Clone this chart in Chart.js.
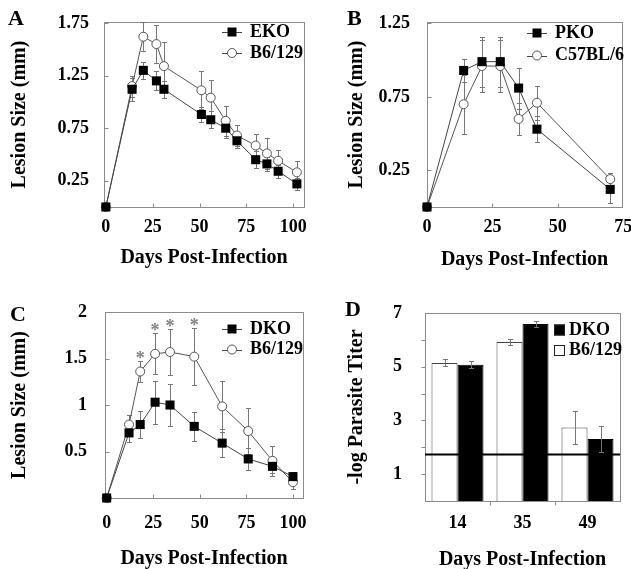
<!DOCTYPE html>
<html>
<head>
<meta charset="utf-8">
<title>Lesion size and parasite titer</title>
<script src="https://cdn.jsdelivr.net/npm/chart.js@4.4.1/dist/chart.umd.min.js"></script>
<style>
    body { margin: 0; background: #fff; width: 631px; height: 569px; position: relative; overflow: hidden; }
    canvas { position: absolute; }
    .tag { position: absolute; font: bold 22px 'Liberation Serif', 'Times New Roman', serif; line-height: 1; }
</style>
</head>
<body>
<canvas id="chartA" width="315" height="280" style="left:0;top:0"></canvas>
<canvas id="chartB" width="316" height="280" style="left:315px;top:0"></canvas>
<canvas id="chartC" width="315" height="289" style="left:0;top:280px"></canvas>
<canvas id="chartD" width="316" height="289" style="left:315px;top:280px"></canvas>
<div class="tag" style="left:8px;top:7px">A</div>
<div class="tag" style="left:347px;top:7px">B</div>
<div class="tag" style="left:10px;top:303px">C</div>
<div class="tag" style="left:345px;top:298px">D</div>

<script>
// Panel A - EKO vs B6/129
const daysA = [0, 14, 20, 27, 31, 51, 56, 64, 70, 80, 86, 92, 102];
const ekoA = [0, 1.12, 1.30, 1.20, 1.12, 0.88, 0.83, 0.75, 0.63, 0.45, 0.41, 0.34, 0.22];
const ekoErrA = [0, 0.11, 0.08, 0.09, 0.08, 0.075, 0.08, 0.09, 0.07, 0.08, 0.07, 0.06, 0.06];
const b6A = [0, 1.15, 1.62, 1.55, 1.34, 1.11, 1.04, 0.82, 0.68, 0.585, 0.51, 0.44, 0.33];
const b6ErrA = [0, 0.1, 0.14, 0.18, 0.23, 0.18, 0.17, 0.14, 0.1, 0.11, 0.15, 0.1, 0.11];
const xTicksA = [0, 25, 50, 75, 100];
const yTicksA = [0.25, 0.75, 1.25, 1.75];

// Panel B - PKO vs C57BL/6
const daysB = [0, 14, 21, 28, 35, 42, 70];
const pkoB = [0, 0.93, 0.99, 0.99, 0.81, 0.53, 0.12];
const pkoErrB = [0, 0.08, 0.17, 0.17, 0.14, 0.09, 0.09];
const c57B = [0, 0.70, 0.96, 0.96, 0.60, 0.71, 0.19];
const c57ErrB = [0, 0.2, 0.18, 0.18, 0.11, 0.115, 0.04];
const xTicksB = [0, 25, 50, 75];
const yTicksB = [0.25, 0.75, 1.25];

// Panel C - DKO vs B6/129
const daysC = [0, 12, 18, 26, 34, 47, 62, 76, 89, 100];
const dkoC = [0, 0.70, 0.79, 1.03, 1.00, 0.77, 0.59, 0.42, 0.34, 0.23];
const dkoErrC = [0, 0.1, 0.15, 0.23, 0.23, 0.16, 0.15, 0.12, 0.07, 0.05];
const b6C = [0, 0.79, 1.36, 1.55, 1.57, 1.52, 0.985, 0.72, 0.40, 0.17];
const b6ErrC = [0, 0.1, 0.11, 0.22, 0.25, 0.31, 0.27, 0.25, 0.16, 0.07];
const starIdxC = [2, 3, 4, 5];
const xTicksC = [0, 25, 50, 75, 100];
const yTicksC = [0.5, 1, 1.5, 2];

// Panel D - parasite titer
const daysD = ['14', '35', '49'];
const b6D = [5.14, 5.92, 2.74];
const b6ErrD = [0.13, 0.1, 0.62];
const dkoD = [5.07, 6.59, 2.31];
const dkoErrD = [0.13, 0.12, 0.5];
const detectionLimitD = 1.73;
const yTicksD = [0, 1, 2, 3, 4, 5, 6, 7];
const yLabelsD = [1, 3, 5, 7];

const SERIF = "'Liberation Serif', 'Times New Roman', serif";
const GREY = '#8c8c8c';

// box round the plot area plus the small tick marks
const framePlugin = {
    id: 'frame',
    beforeDatasetsDraw(chart, args, opts) {
        const {ctx, chartArea: a} = chart;
        const dir = opts.outward ? -1 : 1;
        const len = 4;
        const xs = chart.scales.x, ys = chart.scales.y;
        ctx.save();
        ctx.strokeStyle = GREY;
        ctx.lineWidth = 1;
        ctx.strokeRect(Math.round(a.left) + 0.5, Math.round(a.top) + 0.5,
            Math.round(a.right - a.left), Math.round(a.bottom - a.top));
        ctx.beginPath();
        const bottom = Math.round(a.bottom) + 0.5, left = Math.round(a.left) + 0.5;
        if (xs.type === 'category') {
            for (let i = 1; i < xs.ticks.length; i++) {
                const px = Math.round((xs.getPixelForValue(i - 1) + xs.getPixelForValue(i)) / 2) + 0.5;
                ctx.moveTo(px, bottom);
                ctx.lineTo(px, bottom - dir * len);
            }
        } else {
            xs.ticks.forEach(t => {
                if (t.value <= xs.min || t.value >= xs.max) return;
                const px = Math.round(xs.getPixelForValue(t.value)) + 0.5;
                ctx.moveTo(px, bottom);
                ctx.lineTo(px, bottom - dir * len);
            });
        }
        ys.ticks.forEach(t => {
            if (t.value <= ys.min || t.value >= ys.max) return;
            const py = Math.round(ys.getPixelForValue(t.value)) + 0.5;
            ctx.moveTo(left, py);
            ctx.lineTo(left + dir * len, py);
        });
        ctx.stroke();
        ctx.restore();
    }
};

function drawErrors(chart, opts) {
    const {ctx} = chart;
    const ys = chart.scales.y;
    ctx.save();
    ctx.strokeStyle = opts.color || '#777';
    ctx.lineWidth = 1;
    chart.data.datasets.forEach((ds, di) => {
        if (!ds.errors) return;
        const meta = chart.getDatasetMeta(di);
        meta.data.forEach((el, i) => {
            const err = ds.errors[i];
            if (!err) return;
            const raw = ds.data[i];
            const val = typeof raw === 'object' ? raw.y : raw;
            const x = Math.round(el.x) + 0.5;
            const top = Math.round(ys.getPixelForValue(val + err)) + 0.5;
            const bot = Math.round(ys.getPixelForValue(val - err)) + 0.5;
            ctx.beginPath();
            ctx.moveTo(x, top); ctx.lineTo(x, bot);
            ctx.moveTo(x - 2.5, top); ctx.lineTo(x + 2.5, top);
            ctx.moveTo(x - 2.5, bot); ctx.lineTo(x + 2.5, bot);
            ctx.stroke();
        });
    });
    ctx.restore();
}

const errorBarPlugin = {
    id: 'errorBars',
    beforeDatasetsDraw(chart, args, opts) { if (!opts.onTop) drawErrors(chart, opts); },
    afterDatasetsDraw(chart, args, opts) { if (opts.onTop) drawErrors(chart, opts); }
};

// significance stars above the error bars
const starPlugin = {
    id: 'stars',
    afterDatasetsDraw(chart, args, opts) {
        if (!opts.indices) return;
        const {ctx} = chart;
        const ds = chart.data.datasets[opts.dataset];
        const meta = chart.getDatasetMeta(opts.dataset);
        const ys = chart.scales.y;
        ctx.save();
        ctx.fillStyle = '#808080';
        ctx.font = 'bold 18px ' + SERIF;
        ctx.textAlign = 'center';
        ctx.textBaseline = 'alphabetic';
        opts.indices.forEach(i => {
            const top = ys.getPixelForValue(ds.data[i].y + ds.errors[i]);
            ctx.fillText('*', meta.data[i].x, top + 3);
        });
        ctx.restore();
    }
};

// legend drawn inside the plot, like the original figure
const keyPlugin = {
    id: 'key',
    afterDraw(chart, args, opts) {
        if (!opts.items) return;
        const {ctx} = chart;
        ctx.save();
        ctx.font = 'bold 18px ' + SERIF;
        ctx.textBaseline = 'middle';
        ctx.fillStyle = '#000';
        opts.items.forEach((it, k) => {
            const y = opts.y + k * opts.gap;
            if (it.kind === 'fillBox' || it.kind === 'openBox') {
                ctx.fillStyle = it.kind === 'fillBox' ? '#000' : '#fff';
                ctx.fillRect(opts.x, y - 5.5, 11, 11);
                ctx.strokeStyle = '#222';
                ctx.lineWidth = 1;
                ctx.strokeRect(opts.x + 0.5, y - 5, 10, 10);
                ctx.fillStyle = '#000';
                ctx.fillText(it.text, opts.x + 15, y);
                return;
            }
            ctx.strokeStyle = '#444';
            ctx.lineWidth = 1;
            ctx.beginPath();
            ctx.moveTo(opts.x, Math.round(y) + 0.5);
            ctx.lineTo(opts.x + 20, Math.round(y) + 0.5);
            ctx.stroke();
            if (it.kind === 'square') {
                ctx.fillStyle = '#000';
                ctx.fillRect(opts.x + 10 - 4.5, y - 4.5, 9, 9);
            } else {
                ctx.fillStyle = '#fff';
                ctx.strokeStyle = '#555';
                ctx.beginPath();
                ctx.arc(opts.x + 10, y, 4.5, 0, Math.PI * 2);
                ctx.fill();
                ctx.stroke();
            }
            ctx.fillStyle = '#000';
            ctx.fillText(it.text, opts.x + 28, y);
        });
        ctx.restore();
    }
};

// detection limit line for panel D
const limitPlugin = {
    id: 'limit',
    afterDatasetsDraw(chart, args, opts) {
        if (opts.value === undefined) return;
        const {ctx, chartArea: a} = chart;
        const py = chart.scales.y.getPixelForValue(opts.value);
        ctx.save();
        ctx.strokeStyle = '#000';
        ctx.lineWidth = 2;
        ctx.beginPath();
        ctx.moveTo(a.left, py);
        ctx.lineTo(a.right, py);
        ctx.stroke();
        ctx.restore();
    }
};

Chart.register(framePlugin, errorBarPlugin, starPlugin, keyPlugin, limitPlugin);

function toPoints(days, values) {
    return days.map((d, i) => ({x: d, y: values[i]}));
}

function squareSet(label, days, values, errors) {
    return {
        label, data: toPoints(days, values), errors,
        borderColor: '#444', borderWidth: 1, tension: 0, clip: false,
        pointStyle: 'rect', pointRadius: 6.4, pointBackgroundColor: '#000',
        pointBorderColor: '#000', pointBorderWidth: 0, pointHoverRadius: 6.4
    };
}

function circleSet(label, days, values, errors) {
    return {
        label, data: toPoints(days, values), errors,
        borderColor: '#555', borderWidth: 1, tension: 0, clip: false,
        pointStyle: 'circle', pointRadius: 4.5, pointBackgroundColor: '#fff',
        pointBorderColor: '#555', pointBorderWidth: 1, pointHoverRadius: 4.5
    };
}

function axisFont(size) {
    return {family: SERIF, size, weight: 'bold'};
}

function makeScales(p) {
    return {
        x: {
            type: p.xType || 'linear', min: p.xMin, max: p.xMax,
            afterBuildTicks: p.xTicks ? s => { s.ticks = p.xTicks.map(v => ({value: v})); } : undefined,
            afterFit: s => { s.height = p.xHeight; s.paddingLeft = 0; s.paddingRight = 0; },
            grid: {display: false, drawTicks: false},
            border: {display: false},
            ticks: {font: axisFont(18), color: '#000', padding: p.xPad, maxRotation: 0, autoSkip: false},
            title: {display: true, text: 'Days Post-Infection', color: '#000',
                font: {family: SERIF, size: 20, weight: 'bold', lineHeight: 1},
                padding: {top: 0, bottom: p.xTitlePad}}
        },
        y: {
            min: p.yMin, max: p.yMax,
            afterBuildTicks: s => { s.ticks = p.yTicks.map(v => ({value: v})); },
            afterFit: s => { s.width = p.yWidth; s.paddingTop = 0; s.paddingBottom = 0; },
            grid: {display: false, drawTicks: false},
            border: {display: false},
            ticks: {font: axisFont(18), color: '#000', padding: p.yPad, autoSkip: false,
                callback: p.yLabel || (v => String(v))},
            title: {display: true, text: p.yTitle, color: '#000',
                font: {family: SERIF, size: 20, weight: 'bold', lineHeight: 1},
                padding: {top: p.yTitlePad, bottom: 0}}
        }
    };
}

function baseOptions(p, plugins) {
    return {
        responsive: false,
        animation: false,
        devicePixelRatio: 1,
        layout: {padding: p.padding, autoPadding: false},
        scales: makeScales(p),
        plugins: Object.assign({legend: {display: false}, tooltip: {enabled: false}}, plugins)
    };
}

// A
const pA = {
    padding: {left: 0, top: 22, right: 11, bottom: 0},
    xMin: -1, xMax: 105.8, xTicks: xTicksA, xHeight: 73, xPad: 10, xTitlePad: 12,
    yMin: 0, yMax: 1.76, yTicks: yTicksA, yWidth: 104, yPad: 15, yTitlePad: 10,
    yTitle: 'Lesion Size (mm)'
};
new Chart(document.getElementById('chartA'), {
    type: 'line',
    data: {datasets: [squareSet('EKO', daysA, ekoA, ekoErrA), circleSet('B6/129', daysA, b6A, b6ErrA)]},
    options: baseOptions(pA, {
        frame: {outward: false},
        errorBars: {onTop: false, color: '#777'},
        key: {x: 222, y: 32, gap: 21, items: [{text: 'EKO', kind: 'square'}, {text: 'B6/129', kind: 'circle'}]}
    })
});

// B
const pB = {
    padding: {left: 0, top: 22, right: 9, bottom: 0},
    xMin: 0, xMax: 74.5, xTicks: xTicksB, xHeight: 73, xPad: 10, xTitlePad: 10,
    yMin: 0, yMax: 1.26, yTicks: yTicksB, yWidth: 112, yPad: 17, yTitlePad: 31.7,
    yTitle: 'Lesion Size (mm)'
};
new Chart(document.getElementById('chartB'), {
    type: 'line',
    data: {datasets: [squareSet('PKO', daysB, pkoB, pkoErrB), circleSet('C57BL/6', daysB, c57B, c57ErrB)]},
    options: baseOptions(pB, {
        frame: {outward: false},
        errorBars: {onTop: false, color: '#777'},
        key: {x: 212, y: 33, gap: 22.5, items: [{text: 'PKO', kind: 'square'}, {text: 'C57BL/6', kind: 'circle'}]}
    })
});

// C
const pC = {
    padding: {left: 0, top: 32, right: 12, bottom: 0},
    xMin: -0.9, xMax: 105.4, xTicks: xTicksC, xHeight: 71, xPad: 15, xTitlePad: 0,
    yMin: 0, yMax: 2, yTicks: yTicksC, yWidth: 105, yPad: 18, yTitlePad: 10,
    yTitle: 'Lesion Size (mm)'
};
new Chart(document.getElementById('chartC'), {
    type: 'line',
    data: {datasets: [squareSet('DKO', daysC, dkoC, dkoErrC), circleSet('B6/129', daysC, b6C, b6ErrC)]},
    options: baseOptions(pC, {
        frame: {outward: false},
        errorBars: {onTop: false, color: '#777'},
        stars: {dataset: 1, indices: starIdxC},
        key: {x: 222, y: 49, gap: 20.5, items: [{text: 'DKO', kind: 'square'}, {text: 'B6/129', kind: 'circle'}]}
    })
});

// D
const pD = {
    padding: {left: 0, top: 33, right: 11, bottom: 0},
    xType: 'category', xHeight: 68, xPad: 12, xTitlePad: -1,
    yMin: 0, yMax: 7, yTicks: yTicksD, yWidth: 110, yPad: 23, yTitlePad: 31.7,
    yTitle: '-log Parasite Titer',
    yLabel: v => (yLabelsD.includes(v) ? String(v) : '')
};
new Chart(document.getElementById('chartD'), {
    type: 'bar',
    data: {
        labels: daysD,
        datasets: [
            {label: 'B6/129', data: b6D, errors: b6ErrD, backgroundColor: '#fff', borderColor: '#444',
                borderWidth: 1, borderSkipped: 'bottom', categoryPercentage: 0.8, barPercentage: 1.0},
            {label: 'DKO', data: dkoD, errors: dkoErrD, backgroundColor: '#000', borderColor: '#000',
                borderWidth: 1, borderSkipped: 'bottom', categoryPercentage: 0.8, barPercentage: 1.0}
        ]
    },
    options: baseOptions(pD, {
        frame: {outward: true},
        errorBars: {onTop: true, color: '#777'},
        limit: {value: detectionLimitD},
        key: {x: 239, y: 50, gap: 20.5, items: [{text: 'DKO', kind: 'fillBox'}, {text: 'B6/129', kind: 'openBox'}]}
    })
});
</script>
</body>
</html>
